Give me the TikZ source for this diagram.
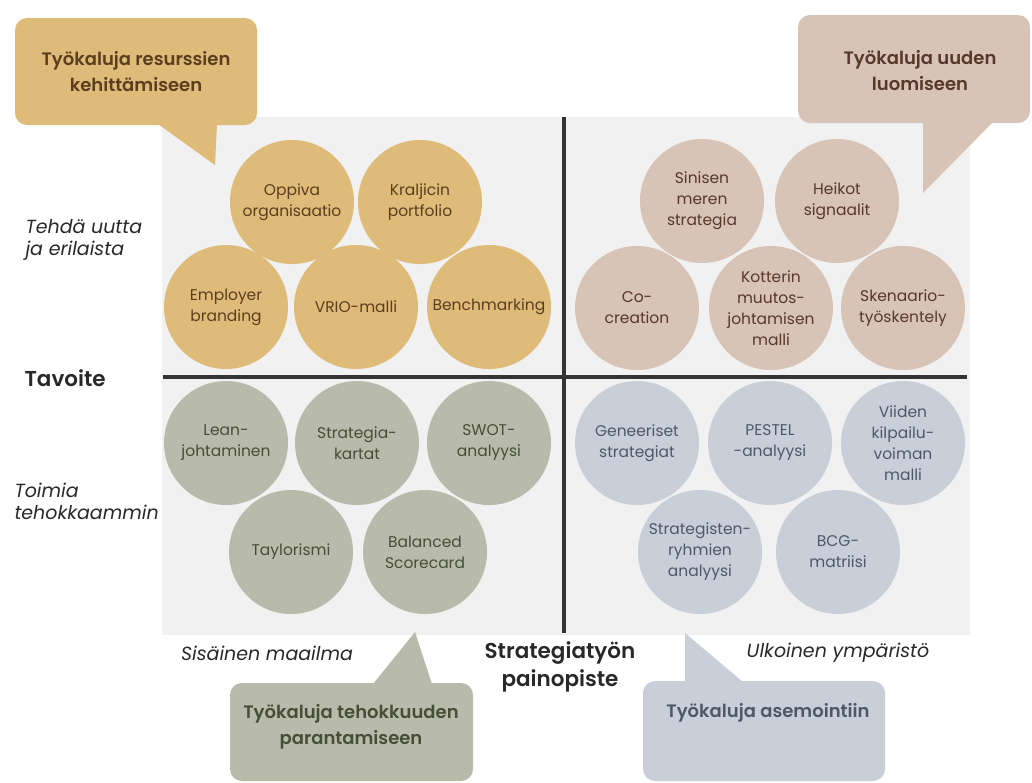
\documentclass[tikz,border=0pt]{standalone}
\usepackage{fontspec}
\setmainfont{Poppins}
\newfontfamily\semib{Poppins SemiBold}
\definecolor{panel}{RGB}{241,241,241}
\definecolor{axisgray}{RGB}{52,52,52}
\definecolor{labelink}{RGB}{40,40,40}
\definecolor{tanfill}{RGB}{222,187,121}
\definecolor{tanink}{RGB}{92,62,30}
\definecolor{rosefill}{RGB}{215,196,182}
\definecolor{roseink}{RGB}{88,56,40}
\definecolor{sagefill}{RGB}{184,187,171}
\definecolor{sageink}{RGB}{70,78,54}
\definecolor{bluefill}{RGB}{200,207,216}
\definecolor{blueink}{RGB}{78,88,102}
\begin{document}
\begin{tikzpicture}[x=1pt,y=-1pt,
  tool/.style={circle,minimum size=124pt,inner sep=0pt,align=center,font=\fontsize{15.5}{21}\selectfont},
  tantool/.style={tool,fill=tanfill,text=tanink},
  rosetool/.style={tool,fill=rosefill,text=roseink},
  sagetool/.style={tool,fill=sagefill,text=sageink},
  bluetool/.style={tool,fill=bluefill,text=blueink},
  bubble/.style={rounded corners=12pt},
  bubbletext/.style={align=center,font=\semib\fontsize{18}{26}\selectfont},
  sidelabel/.style={align=left,text=labelink,font=\itshape\fontsize{19}{22}\selectfont},
  axislabel/.style={align=center,text=labelink,font=\semib\fontsize{21.5}{28}\selectfont},
  axisline/.style={draw=axisgray,line width=3.5pt}]

\useasboundingbox (0,0) rectangle (1032,782);
\clip (0,0) rectangle (1032,782);

\fill[panel] (162,117) rectangle (970,635);

\fill[tanfill,bubble] (15,18) rectangle (257,125);
\fill[tanfill] (158,124) -- (215,165) -- (217,124) -- cycle;
\fill[rosefill,bubble] (798,15) rectangle (1030,123);
\fill[rosefill] (923,122) -- (923,193) -- (993,122) -- cycle;
\fill[sagefill,bubble] (230,683) rectangle (473,781);
\fill[sagefill] (373,684) -- (415,632) -- (432,684) -- cycle;
\fill[bluefill,bubble] (643,681) rectangle (885,781);
\fill[bluefill] (685,682) -- (685,633) -- (743,682) -- cycle;

\draw[axisline] (564,117) -- (564,633);
\draw[axisline] (163,377) -- (967,377);

\node[tantool] (oppiva) at (292,202) {Oppiva\\organisaatio};
\node[tantool] (kraljic) at (420,202) {Kraljicin\\portfolio};
\node[tantool] (employer) at (226,307) {Employer\\branding};
\node[tantool] (vrio) at (356,307) {VRIO-malli};
\node[tantool] (bench) at (489,307) {Benchmarking};

\node[rosetool] (sininen) at (702,201) {Sinisen\\meren\\strategia};
\node[rosetool] (heikot) at (837,201) {Heikot\\signaalit};
\node[rosetool] (cocreation) at (637,308) {Co-\\creation};
\node[rosetool] (kotter) at (771,308) {Kotterin\\muutos-\\johtamisen\\malli};
\node[rosetool] (skenaario) at (903,308) {Skenaario-\\työskentely};

\node[sagetool] (lean) at (226,443) {Lean-\\johtaminen};
\node[sagetool] (kartat) at (357,443) {Strategia-\\kartat};
\node[sagetool] (swot) at (489,443) {SWOT-\\analyysi};
\node[sagetool] (taylor) at (291,552) {Taylorismi};
\node[sagetool] (bsc) at (425,552) {Balanced\\Scorecard};

\node[bluetool] (generic) at (637,443) {Geneeriset\\strategiat};
\node[bluetool] (pestel) at (770,443) {PESTEL\\-analyysi};
\node[bluetool] (porter) at (903,443) {Viiden\\kilpailu-\\voiman\\malli};
\node[bluetool] (ryhmat) at (700,552) {Strategisten-\\ryhmien\\analyysi};
\node[bluetool] (bcg) at (838,552) {BCG-\\matriisi};

\node[bubbletext,text=tanink] (resurssit) at (136,72) {Työkaluja resurssien\\kehittämiseen};
\node[bubbletext,text=roseink] (uusi) at (920,71) {Työkaluja uuden\\luomiseen};
\node[bubbletext,text=sageink] (tehokkuus) at (351,727) {Työkaluja tehokkuuden\\parantamiseen};
\node[bubbletext,text=blueink] (asemointi) at (768,713) {Työkaluja asemointiin};

\node[sidelabel,anchor=west] (uutta) at (22,240) {Tehdä uutta\\ja erilaista};
\node[axislabel,anchor=west] (tavoite) at (21,378) {Tavoite};
\node[sidelabel,anchor=west] (toimia) at (11,501) {Toimia\\tehokkaammin};
\node[sidelabel] (sisainen) at (267,653) {Sisäinen maailma};
\node[axislabel] (painopiste) at (560,667) {Strategiatyön\\painopiste};
\node[sidelabel] (ulkoinen) at (838,653) {Ulkoinen ympäristö};
\end{tikzpicture}
\end{document}
